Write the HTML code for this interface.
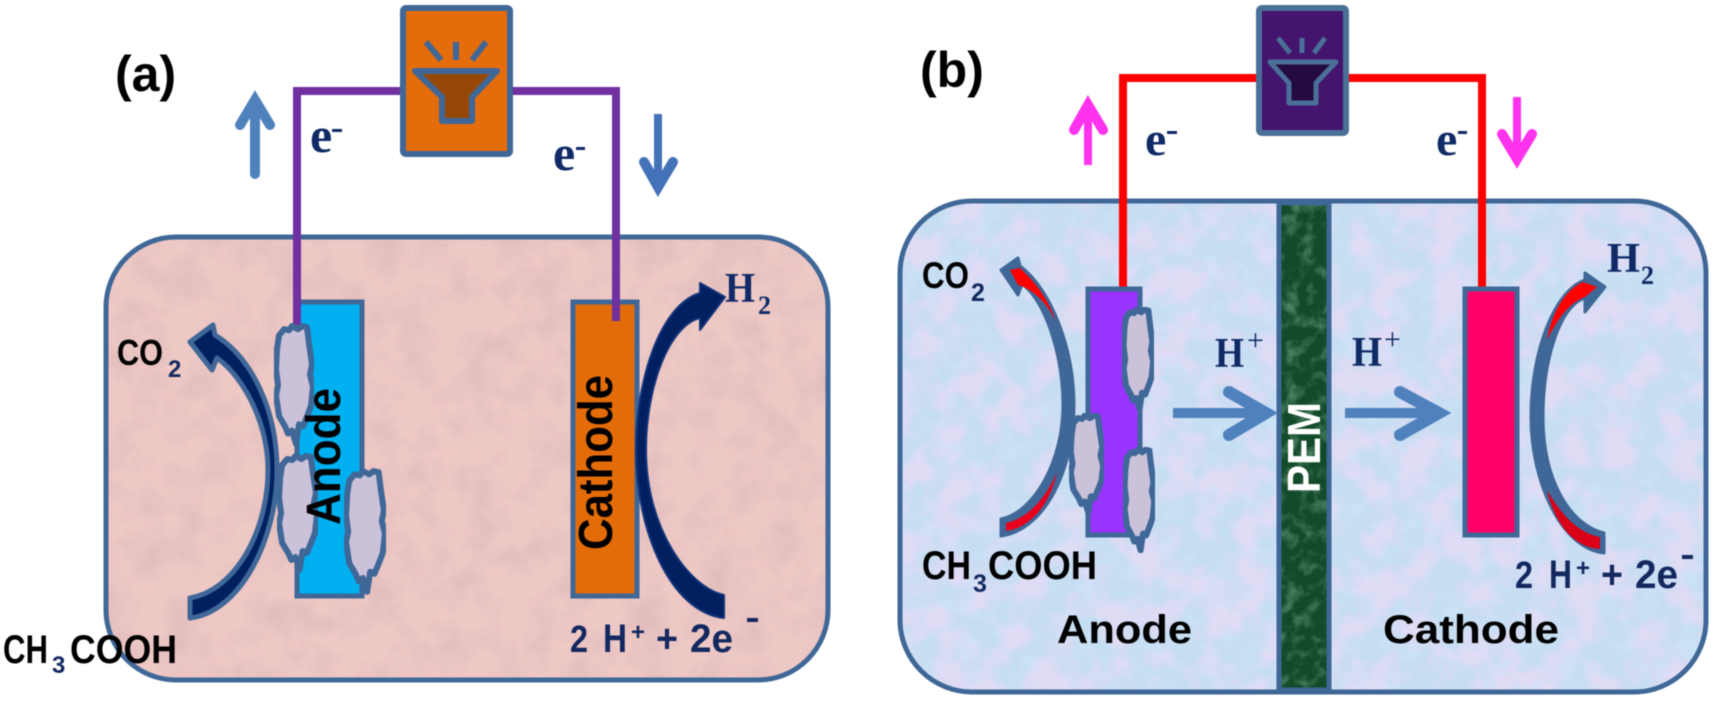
<!DOCTYPE html>
<html><head><meta charset="utf-8"><style>
html,body{margin:0;padding:0;background:#fff}
svg{display:block;filter:blur(.6px)}
.s{font-family:"Liberation Sans",sans-serif;font-weight:bold}
.f{font-family:"Liberation Serif",serif;font-weight:bold;fill:#0f2a66}
.n{fill:#12285f}
</style></head><body>
<svg width="1715" height="705" viewBox="0 0 1715 705" xmlns="http://www.w3.org/2000/svg">
<defs>
<filter id="tp" x="0" y="0" width="100%" height="100%"><feTurbulence type="fractalNoise" baseFrequency="0.03" numOctaves="4" seed="4"/><feColorMatrix values="0 0 0 0 .70  0 0 0 0 .47  0 0 0 0 .47  2.4 0 0 0 -1.0"/></filter>
<filter id="tb" x="0" y="0" width="100%" height="100%"><feTurbulence type="fractalNoise" baseFrequency="0.03" numOctaves="4" seed="9"/><feColorMatrix values="0 0 0 0 .84  0 0 0 0 .70  0 0 0 0 .92  3.2 0 0 0 -1.25"/></filter>
<filter id="tc" x="0" y="0" width="100%" height="100%"><feTurbulence type="fractalNoise" baseFrequency="0.05" numOctaves="3" seed="21"/><feColorMatrix values="0 0 0 0 .62  0 0 0 0 .78  0 0 0 0 .95  3 0 0 0 -1.2"/></filter>
<filter id="tg" x="0" y="0" width="100%" height="100%"><feTurbulence type="fractalNoise" baseFrequency="0.07" numOctaves="3" seed="2"/><feColorMatrix values="0 0 0 0 .25  0 0 0 0 .50  0 0 0 0 .32  2.6 0 0 0 -1.2"/></filter>
<clipPath id="ca"><rect x="106" y="237" width="722" height="443" rx="70"/></clipPath>
<clipPath id="cb"><rect x="900" y="201" width="806" height="491" rx="72"/></clipPath>
<symbol id="cl" viewBox="0 0 40 120" preserveAspectRatio="none"><path vector-effect="non-scaling-stroke" d="M10 6L15 7L18 3L24 6L28 3L33 4L35 20L38 40L36 50L39 62L37 80L34 88L29 100L25 98L22 117L18 104L14 107L11 100L5 90L2 70L4 60L2 45L3 25L5 12Z" fill="#cbc1d9" stroke="#3f6797" stroke-width="6" stroke-linejoin="round"/></symbol>
</defs>

<!-- panel a -->
<rect x="106" y="237" width="722" height="443" rx="70" fill="#eec8c5"/>
<rect x="106" y="237" width="722" height="443" filter="url(#tp)" clip-path="url(#ca)" opacity=".6"/>
<rect x="106" y="237" width="722" height="443" rx="70" fill="none" stroke="#3f6797" stroke-width="5"/>

<rect x="297" y="302" width="65" height="294" fill="#00b0f0" stroke="#3f6797" stroke-width="5"/>
<rect x="573" y="302" width="64" height="294" fill="#e36c09" stroke="#3f6797" stroke-width="5"/>

<path d="M297 325V91H402M511 91H616V321" fill="none" stroke="#7030a0" stroke-width="8"/>
<rect x="403" y="8" width="107" height="146" rx="3" fill="#e46c0a" stroke="#3f6797" stroke-width="6"/>
<path d="M415 71H497L472 97V121H442V97Z" fill="#974706" stroke="#3f6797" stroke-width="6" stroke-linejoin="round"/>
<path d="M426 42L441 60M456 42V60M486 42L472 60" stroke="#3f6797" stroke-width="6" fill="none"/>

<!-- a arrows -->
<path d="M190 342L213 325L215 335C252 358 277 410 277 470C277 540 240 612 190 618V598C236 590 268 530 268 470C268 425 245 378 217 358L212 370Z" fill="#002060" stroke="#3f6797" stroke-width="5" stroke-linejoin="round"/>
<path d="M725 297L700 283L700 293C660 305 636 380 636 450C636 530 670 612 724 618V595C690 588 646 530 646 450C646 385 670 325 700 318L700 330Z" fill="#002060" stroke="#12347a" stroke-width="2" stroke-linejoin="round"/>

<use href="#cl" x="274" y="323" width="40" height="124"/>
<use href="#cl" x="277" y="453" width="41" height="120"/>
<use href="#cl" x="344" y="468" width="42" height="127"/>

<text class="s" transform="translate(340 525) rotate(-90)" font-size="48" textLength="137" lengthAdjust="spacingAndGlyphs">Anode</text>
<text class="s" transform="translate(612 550) rotate(-90)" font-size="48" textLength="175" lengthAdjust="spacingAndGlyphs">Cathode</text>

<path d="M255 174V100M240 125L255 100L270 125" fill="none" stroke="#4f81bd" stroke-width="10" stroke-linecap="round"/>
<path d="M658 114V188" fill="none" stroke="#4472b8" stroke-width="8"/>
<path d="M644 162L658 187L673 162" fill="none" stroke="#4472b8" stroke-width="10" stroke-linecap="round"/>

<text class="s" x="115" y="91" font-size="50">(a)</text>
<text class="f" x="310" y="152" font-size="50">e</text><rect x="332" y="129" width="10" height="3" fill="#0f2a66"/>
<text class="f" x="553" y="170" font-size="50">e</text><rect x="576" y="147" width="9" height="3" fill="#0f2a66"/>
<text class="s" x="117" y="365" font-size="36" textLength="46" lengthAdjust="spacingAndGlyphs">CO</text>
<text class="s n" x="168" y="377" font-size="24">2</text>
<text class="s" x="3" y="663" font-size="40" textLength="45" lengthAdjust="spacingAndGlyphs">CH</text>
<text class="s n" x="52" y="673" font-size="24">3</text>
<text class="s" x="70" y="663" font-size="40" textLength="107" lengthAdjust="spacingAndGlyphs">COOH</text>
<text class="f" x="725" y="302" font-size="42" textLength="30" lengthAdjust="spacingAndGlyphs">H</text>
<text class="f" x="758" y="314" font-size="26">2</text>
<g class="s n" font-size="40">
<text x="570" y="652" font-size="38" textLength="18" lengthAdjust="spacingAndGlyphs">2</text>
<text x="603" y="652" textLength="24" lengthAdjust="spacingAndGlyphs">H</text>
<text x="631" y="640" font-size="24">+</text>
<text x="656" y="652" textLength="22" lengthAdjust="spacingAndGlyphs">+</text>
<text x="690" y="652" textLength="43" lengthAdjust="spacingAndGlyphs">2e</text>
</g>
<rect x="747" y="618" width="11" height="4" fill="#12285f"/>

<!-- panel b -->
<rect x="900" y="201" width="806" height="491" rx="72" fill="#c6def2"/>
<rect x="900" y="201" width="806" height="491" filter="url(#tc)" clip-path="url(#cb)" opacity=".5"/>
<rect x="900" y="201" width="806" height="491" filter="url(#tb)" clip-path="url(#cb)" opacity=".7"/>
<rect x="900" y="201" width="806" height="491" rx="72" fill="none" stroke="#3f6797" stroke-width="5"/>

<rect x="1279" y="203" width="50" height="487" fill="#134a2a"/>
<rect x="1279" y="203" width="50" height="487" filter="url(#tg)" opacity=".5"/>
<rect x="1279" y="203" width="50" height="487" fill="none" stroke="#3f6797" stroke-width="5"/>
<text class="s" transform="translate(1320 493) rotate(-90)" font-size="46" fill="#fff" textLength="91" lengthAdjust="spacingAndGlyphs">PEM</text>

<path d="M1123 290V78H1258M1346 78H1482V290" fill="none" stroke="#ff0000" stroke-width="8"/>
<rect x="1259" y="8" width="87" height="125" rx="3" fill="#44156e" stroke="#4a7098" stroke-width="6"/>
<path d="M1270 62H1336L1316 83V103H1289V83Z" fill="#240a3e" stroke="#4a7098" stroke-width="5" stroke-linejoin="round"/>
<path d="M1278 38L1290 53M1302 38V53M1325 38L1314 53" stroke="#4a7098" stroke-width="5" fill="none"/>

<rect x="1088" y="289" width="52" height="246" fill="#9933ff" stroke="#3f6797" stroke-width="5"/>
<rect x="1465" y="289" width="52" height="246" fill="#ff0066" stroke="#3f6797" stroke-width="5"/>

<!-- b curved arrows -->
<path d="M1001 270L1018 258L1020 266C1052 290 1074 350 1074 405C1074 470 1045 530 1001 536V519C1035 512 1063 460 1063 405C1063 355 1045 300 1022 284L1018 295Z" fill="#3f6797" stroke="#3f6797" stroke-width="3" stroke-linejoin="round"/>
<path d="M1010 270L1020 268C1035 282 1048 298 1056 322C1046 300 1030 288 1018 285Z" fill="#ff0000"/>
<path d="M1006 531V523C1030 518 1048 494 1057 472C1050 505 1030 528 1006 531Z" fill="#e8001c"/>
<path d="M1605 287L1585 273L1585 280C1555 290 1531 350 1531 417C1531 480 1560 548 1604 553V533C1570 525 1543 480 1543 417C1543 360 1560 305 1585 298L1585 312Z" fill="#3f6797" stroke="#3f6797" stroke-width="3" stroke-linejoin="round"/>
<path d="M1597 287L1583 282C1565 290 1552 312 1547 340C1558 318 1570 302 1585 297Z" fill="#ff0000"/>
<path d="M1600 549V537C1575 532 1560 512 1547 490C1555 525 1575 548 1600 549Z" fill="#d90018"/>

<use href="#cl" x="1122" y="307" width="32" height="105"/>
<use href="#cl" x="1069" y="413" width="35" height="102"/>
<use href="#cl" x="1123" y="447" width="32" height="106"/>

<path d="M1173 413H1262" fill="none" stroke="#4f81bd" stroke-width="10"/>
<path d="M1229 392L1266 413L1229 435" fill="none" stroke="#4f81bd" stroke-width="12" stroke-linecap="round"/>
<path d="M1345 413H1434" fill="none" stroke="#4f81bd" stroke-width="10"/>
<path d="M1400 392L1439 413L1400 435" fill="none" stroke="#4f81bd" stroke-width="12" stroke-linecap="round"/>

<path d="M1088 165V104" fill="none" stroke="#ff33ee" stroke-width="8"/>
<path d="M1074 130L1088 105L1103 130" fill="none" stroke="#ff33ee" stroke-width="10" stroke-linecap="round"/>
<path d="M1517 97V160" fill="none" stroke="#ff33ee" stroke-width="8"/>
<path d="M1502 134L1517 159L1532 134" fill="none" stroke="#ff33ee" stroke-width="10" stroke-linecap="round"/>

<text class="s" x="920" y="87" font-size="50">(b)</text>
<text class="f" x="1145" y="155" font-size="48">e</text><rect x="1167" y="131" width="10" height="3" fill="#0f2a66"/>
<text class="f" x="1436" y="155" font-size="48">e</text><rect x="1458" y="131" width="9" height="3" fill="#0f2a66"/>
<text class="s" x="922" y="288" font-size="37" textLength="47" lengthAdjust="spacingAndGlyphs">CO</text>
<text class="s n" x="971" y="301" font-size="25">2</text>
<text class="s" x="922" y="579" font-size="40" textLength="49" lengthAdjust="spacingAndGlyphs">CH</text>
<text class="s n" x="973" y="592" font-size="25">3</text>
<text class="s" x="988" y="579" font-size="40" textLength="109" lengthAdjust="spacingAndGlyphs">COOH</text>
<text class="s" x="1057" y="643" font-size="40" textLength="135" lengthAdjust="spacingAndGlyphs">Anode</text>
<text class="s" x="1383" y="643" font-size="40" textLength="176" lengthAdjust="spacingAndGlyphs">Cathode</text>
<text class="f" x="1215" y="367" font-size="42" textLength="29" lengthAdjust="spacingAndGlyphs">H</text>
<text x="1247" y="350" font-size="30" font-family="Liberation Serif" fill="#0f2a66">+</text>
<text class="f" x="1352" y="366" font-size="42" textLength="30" lengthAdjust="spacingAndGlyphs">H</text>
<text x="1384" y="349" font-size="30" font-family="Liberation Serif" fill="#0f2a66">+</text>
<text class="f" x="1607" y="272" font-size="42" textLength="33" lengthAdjust="spacingAndGlyphs">H</text>
<text class="f" x="1641" y="284" font-size="26">2</text>
<g class="s n" font-size="40">
<text x="1515" y="588" font-size="38" textLength="18" lengthAdjust="spacingAndGlyphs">2</text>
<text x="1549" y="588" textLength="23" lengthAdjust="spacingAndGlyphs">H</text>
<text x="1576" y="576" font-size="24">+</text>
<text x="1601" y="588" textLength="22" lengthAdjust="spacingAndGlyphs">+</text>
<text x="1635" y="588" textLength="43" lengthAdjust="spacingAndGlyphs">2e</text>
</g>
<rect x="1682" y="555" width="11" height="4" fill="#12285f"/>
</svg>
</body></html>
